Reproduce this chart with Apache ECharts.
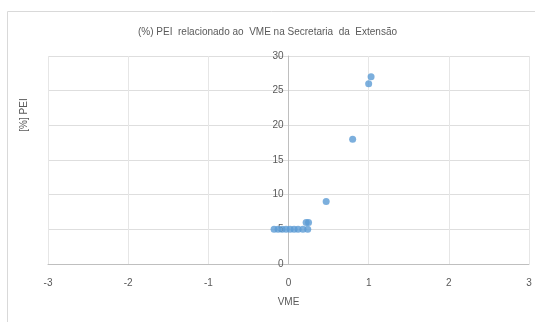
<!DOCTYPE html>
<html>
<head>
<meta charset="utf-8">
<script src="https://cdn.jsdelivr.net/npm/echarts@6/dist/echarts.min.js"></script>
<style>
  html, body { margin: 0; padding: 0; background: #fff; }
  #chart { width: 535px; height: 322px; }
</style>
</head>
<body>
<div id="chart"></div>
<script>
// VME values (x) and the matching PEI percentages (y)
const vme = [-0.18, -0.13, -0.08, -0.03, 0.02, 0.07, 0.12, 0.18, 0.24, 0.22, 0.25, 0.47, 0.80, 1.00, 1.03];
const pei = [5, 5, 5, 5, 5, 5, 5, 5, 5, 6, 6, 9, 18, 26, 27];

const xTicks = [-3, -2, -1, 0, 1, 2, 3];
const yTicks = [0, 5, 10, 15, 20, 25, 30];

const titleText = '(%) PEI  relacionado ao  VME na Secretaria  da  Extensão';
const xName = 'VME';
const yName = '[%] PEI';

const points = vme.map((v, i) => [v, pei[i]]);
const font = 'Liberation Sans, Arial, sans-serif';
const textColor = '#595959';

const gridLeft = 48, gridRight = 6;
const chartWidth = 535;
const xMin = xTicks[0], xMax = xTicks[xTicks.length - 1];
// shift the value axis so it sits on x = 0, labels included
const plotWidth = chartWidth - gridLeft - gridRight;
const yAxisShift = -plotWidth * (0 - xMin) / (xMax - xMin);

const chart = echarts.init(document.getElementById('chart'));
chart.setOption({
  animation: false,
  title: {
    text: titleText,
    left: 'center',
    top: 22,
    textStyle: { fontFamily: font, fontSize: 10, fontWeight: 'normal', color: textColor }
  },
  grid: { left: gridLeft, right: gridRight, top: 56, bottom: 58 },
  xAxis: {
    type: 'value',
    min: xMin,
    max: xMax,
    interval: 1,
    name: xName,
    nameLocation: 'middle',
    nameGap: 33,
    nameTextStyle: { fontFamily: font, fontSize: 10, color: textColor },
    axisLine: { show: true, lineStyle: { color: '#bfbfbf' } },
    axisTick: { show: false },
    axisLabel: { fontFamily: font, fontSize: 10, color: textColor, margin: 14 },
    splitLine: { show: true, lineStyle: { color: '#e6e6e6' } }
  },
  yAxis: {
    type: 'value',
    min: yTicks[0],
    max: yTicks[yTicks.length - 1],
    interval: 5,
    offset: yAxisShift,
    axisLine: { show: true, onZero: false, lineStyle: { color: '#bfbfbf' } },
    axisTick: { show: false },
    axisLabel: { fontFamily: font, fontSize: 10, color: textColor, margin: 5 },
    splitLine: { show: true, lineStyle: { color: '#dedede' } }
  },
  graphic: [
    {
      type: 'rect',
      shape: { x: 7.5, y: 11.5, width: 600, height: 400 },
      style: { fill: 'none', stroke: '#d9d9d9', lineWidth: 1 },
      silent: true,
      z: -1
    },
    {
      type: 'text',
      x: 24,
      y: 115,
      rotation: Math.PI / 2,
      style: {
        text: yName,
        fontFamily: font,
        fontSize: 10,
        fill: textColor,
        textAlign: 'center',
        textVerticalAlign: 'middle'
      }
    }
  ],
  series: [{
    type: 'scatter',
    data: points,
    symbol: 'circle',
    symbolSize: 7,
    itemStyle: { color: '#5b9bd5' }
  }]
});
</script>
</body>
</html>
